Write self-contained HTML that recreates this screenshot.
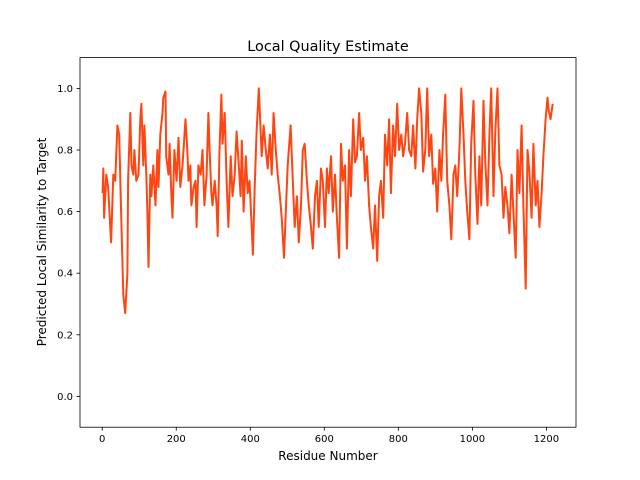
<!DOCTYPE html>
<html><head><meta charset="utf-8"><style>
html,body{margin:0;padding:0;background:#fff;}
svg{display:block;font-family:"DejaVu Sans","Liberation Sans",sans-serif;}
</style></head><body>
<svg id="chart" width="640" height="480">
<rect width="640" height="480" fill="#fff"/>
<text x="328" y="51" font-size="14.4" text-anchor="middle">Local Quality Estimate</text>
<text x="328" y="460" font-size="12" text-anchor="middle">Residue Number</text>
<text transform="translate(46,242) rotate(-90)" font-size="12" text-anchor="middle">Predicted Local Similarity to Target</text>
<g id="ticks"></g>
<g id="plot"></g>
<rect x="80" y="57.6" width="496" height="369.6" fill="none" stroke="#000" stroke-width="0.8"/>
</svg>
<script>
const residues=[1,3,5,11,16,24,30,35,41,46,51,57,62,68,70,76,79,84,87,92,98,103,106,111,114,119,122,125,130,133,138,144,149,152,157,163,165,171,173,179,182,187,190,195,201,206,211,217,225,230,233,238,241,247,252,255,260,266,271,276,282,287,290,295,298,304,309,312,317,322,325,331,336,341,347,352,358,363,369,374,377,382,388,393,398,404,407,412,417,423,425,431,436,442,447,453,458,463,469,474,480,485,491,496,501,509,515,520,526,531,537,542,547,553,558,564,569,575,580,585,591,596,602,607,612,618,623,629,634,640,645,650,656,661,667,672,678,683,688,694,699,705,710,715,721,726,732,737,743,748,753,759,764,770,775,780,786,791,797,802,808,813,818,824,829,835,840,846,851,856,862,867,873,878,883,889,894,900,905,911,916,921,927,932,938,943,949,954,959,965,970,976,981,986,992,997,1003,1008,1014,1019,1024,1030,1035,1041,1046,1051,1057,1062,1068,1073,1079,1084,1089,1095,1100,1106,1111,1117,1122,1127,1133,1138,1144,1149,1154,1160,1165,1171,1176,1181,1187,1192,1198,1203,1206,1211,1217];
const scores=[0.66,0.74,0.58,0.72,0.68,0.50,0.72,0.70,0.88,0.85,0.60,0.33,0.27,0.40,0.70,0.92,0.75,0.72,0.80,0.70,0.72,0.90,0.95,0.75,0.88,0.72,0.60,0.42,0.72,0.65,0.75,0.62,0.80,0.68,0.85,0.92,0.97,0.99,0.78,0.72,0.82,0.65,0.58,0.80,0.70,0.84,0.68,0.75,0.90,0.80,0.70,0.75,0.62,0.68,0.70,0.55,0.75,0.72,0.80,0.62,0.72,0.92,0.80,0.66,0.62,0.70,0.62,0.52,0.80,0.98,0.82,0.92,0.70,0.55,0.78,0.65,0.72,0.86,0.75,0.65,0.83,0.60,0.78,0.66,0.70,0.55,0.46,0.68,0.86,1.0,0.95,0.78,0.88,0.80,0.74,0.85,0.72,0.92,0.80,0.72,0.65,0.58,0.45,0.60,0.75,0.88,0.70,0.55,0.65,0.50,0.62,0.80,0.82,0.70,0.62,0.55,0.48,0.65,0.70,0.55,0.74,0.70,0.55,0.74,0.66,0.78,0.60,0.72,0.58,0.45,0.82,0.70,0.75,0.48,0.80,0.65,0.90,0.76,0.78,0.92,0.80,0.84,0.70,0.78,0.62,0.55,0.48,0.62,0.44,0.65,0.70,0.58,0.85,0.75,0.90,0.66,0.88,0.78,0.95,0.80,0.85,0.78,0.82,0.92,0.80,0.78,0.88,0.74,0.90,1.0,0.92,0.73,0.80,1.0,0.78,0.85,0.69,0.74,0.60,0.80,0.70,0.85,0.98,0.70,0.62,0.51,0.72,0.75,0.65,0.80,1.0,0.85,0.70,0.60,0.51,0.82,0.96,0.72,0.56,0.78,0.62,0.96,0.76,0.62,0.85,1.0,0.65,0.86,1.0,0.75,0.72,0.58,0.68,0.62,0.53,0.72,0.60,0.45,0.80,0.66,0.88,0.62,0.35,0.80,0.73,0.58,0.82,0.62,0.70,0.55,0.66,0.78,0.90,0.97,0.93,0.90,0.95];
const xTicks=[0,200,400,600,800,1000,1200];
const yTicks=[0.0,0.2,0.4,0.6,0.8,1.0];
const X0=80,X1=576,Y0=427.2,Y1=57.6,xmin=-60,xmax=1280,ymin=-0.1,ymax=1.1;
const sx=v=>X0+(v-xmin)/(xmax-xmin)*(X1-X0);
const sy=v=>Y0-(v-ymin)/(ymax-ymin)*(Y0-Y1);
const NS="http://www.w3.org/2000/svg";
const tg=document.getElementById('ticks');
xTicks.forEach(t=>{
  const l=document.createElementNS(NS,'line');
  
  
  l.setAttribute('x1',sx(t));l.setAttribute('x2',sx(t));l.setAttribute('y1',Y0);l.setAttribute('y2',Y0+3.5);l.setAttribute('stroke','#000');l.setAttribute('stroke-width','0.8');
  tg.appendChild(l);
  const tx=document.createElementNS(NS,'text');
  
  
  tx.setAttribute('x',sx(t));tx.setAttribute('y',Y0+15);tx.setAttribute('font-size','10');tx.setAttribute('text-anchor','middle');
  tx.textContent=t;tg.appendChild(tx);
});
yTicks.forEach(t=>{
  const l=document.createElementNS(NS,'line');
  
  
  l.setAttribute('x1',X0-3.5);l.setAttribute('x2',X0);l.setAttribute('y1',sy(t));l.setAttribute('y2',sy(t));l.setAttribute('stroke','#000');l.setAttribute('stroke-width','0.8');
  tg.appendChild(l);
  const tx=document.createElementNS(NS,'text');
  
  
  tx.setAttribute('x',X0-7);tx.setAttribute('y',sy(t)+3.5);tx.setAttribute('font-size','10');tx.setAttribute('text-anchor','end');
  tx.textContent=t.toFixed(1);tg.appendChild(tx);
});
const p=document.createElementNS(NS,'polyline');


p.setAttribute('points',residues.map((r,i)=>sx(r).toFixed(1)+','+sy(scores[i]).toFixed(1)).join(' '));
p.setAttribute('fill','none');p.setAttribute('stroke','#ff4511');p.setAttribute('stroke-width','2');p.setAttribute('stroke-linejoin','round');
document.getElementById('plot').appendChild(p);
</script>
</body></html>
